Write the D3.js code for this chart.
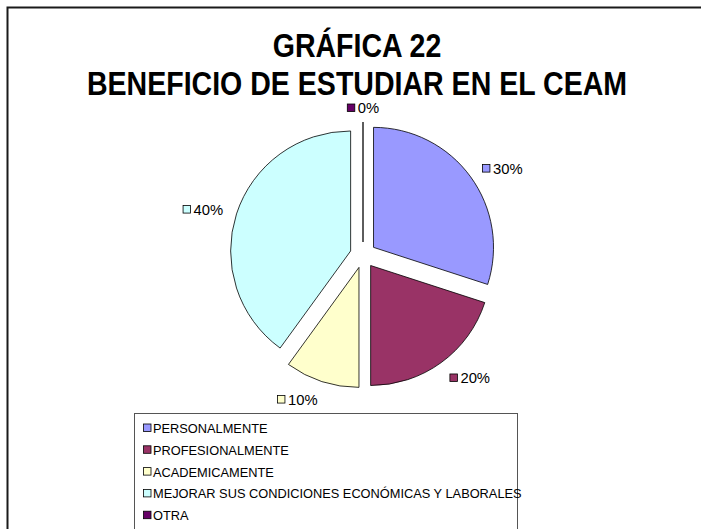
<!DOCTYPE html>
<html><head><meta charset="utf-8">
<script src="https://cdn.jsdelivr.net/npm/d3@7"></script>
<style>body{margin:0;background:#fff}svg{display:block}</style>
</head><body>
<svg id="c" width="701" height="529"></svg>
<script>
const titleLines = ["GRÁFICA 22", "BENEFICIO DE ESTUDIAR EN EL CEAM"];
const categories = ["PERSONALMENTE", "PROFESIONALMENTE", "ACADEMICAMENTE", "MEJORAR SUS CONDICIONES ECONÓMICAS Y LABORALES", "OTRA"];
const values = [30, 20, 10, 40, 0];
const labels = ["30%", "20%", "10%", "40%", "0%"];
const colors = ["#9999FF", "#993366", "#FFFFCC", "#CCFFFF", "#660066"];

const svg = d3.select("#c");
svg.append("rect").attr("x", 7.5).attr("y", 7.5).attr("width", 720).attr("height", 560)
  .attr("fill", "#fff").attr("stroke", "#1a1a1a").attr("stroke-width", 2);

const tFont = "'Liberation Sans',Arial,Helvetica,sans-serif";
const titleCx = 357, sx = 0.84;
svg.selectAll("text.title").data(titleLines).join("text").attr("class", "title")
  .attr("transform", (d, i) => `translate(${titleCx},${57 + i * 37.5}) scale(${sx},1)`)
  .attr("text-anchor", "middle").attr("font-family", tFont).attr("font-weight", "bold")
  .attr("font-size", 34).attr("fill", "#000").text(d => d);

const cx = 363, cy = 255, r = 120, explode = 13;
const pie = d3.pie().sort(null).value(d => d.v);
const arcs = pie(values.map((v, i) => ({v, i})));
const arc = d3.arc().innerRadius(0).outerRadius(r);
const g = svg.append("g").attr("transform", `translate(${cx},${cy})`);

arcs.forEach(a => {
  const m = (a.startAngle + a.endAngle) / 2;
  const ox = explode * Math.sin(m), oy = -explode * Math.cos(m);
  g.append("path").attr("d", arc(a)).attr("transform", `translate(${ox},${oy})`)
    .attr("fill", colors[a.index]).attr("stroke", "#000").attr("stroke-width", 0.8)
    .attr("stroke-linejoin", "miter");
});

const lf = "'Liberation Sans',Arial,Helvetica,sans-serif";
const R = 147;
arcs.forEach(a => {
  const m = (a.startAngle + a.endAngle) / 2;
  const lg = g.append("g");
  lg.append("rect").attr("x", 0.5).attr("y", -4).attr("width", 7.5).attr("height", 7.5)
    .attr("fill", colors[a.index]).attr("stroke", "#000").attr("stroke-width", 0.8);
  const t = lg.append("text").attr("x", 11).attr("y", 5).attr("font-family", lf).attr("font-size", 14.8)
    .attr("fill", "#000").text(labels[a.index]);
  const w = 11 + t.node().getComputedTextLength(), h = 10;
  const hx = Math.max(-1, Math.min(1, Math.sin(m) * 3.5)) * w / 2;
  const px = R * Math.sin(m) + hx;
  const py = -R * Math.cos(m) + Math.max(0, -Math.cos(m)) * h / 2;
  lg.attr("transform", `translate(${px - w / 2},${py})`);
});

const leg = svg.append("g");
leg.append("rect").attr("x", 134.5).attr("y", 413.5).attr("width", 383).attr("height", 140)
  .attr("fill", "none").attr("stroke", "#555").attr("stroke-width", 1);
categories.forEach((c, i) => {
  const y = 428 + i * 21.8;
  leg.append("rect").attr("x", 143.5).attr("y", y - 4).attr("width", 7.5).attr("height", 7.5)
    .attr("fill", colors[i]).attr("stroke", "#000").attr("stroke-width", 0.8);
  leg.append("text").attr("x", 153).attr("y", y + 5).attr("font-family", lf).attr("font-size", 12.8)
    .attr("fill", "#000").text(c);
});
</script>
</body></html>
